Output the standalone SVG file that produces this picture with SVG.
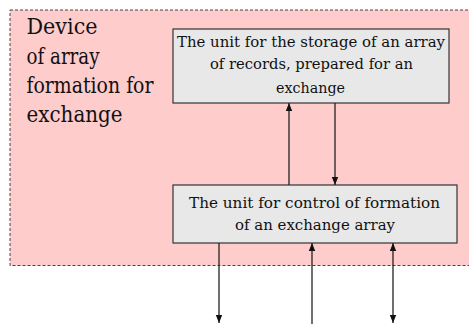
<svg xmlns="http://www.w3.org/2000/svg" width="469" height="324" viewBox="0 0 469 324">
<style>
text{font-family:'DejaVu Serif','Liberation Serif',serif;fill:#111}
.box{fill:#E8E8E8;stroke:#333;stroke-width:1.2}
.ln{stroke:#222;stroke-width:1.3;fill:none}
</style>
<defs>
<marker id="ah" viewBox="0 0 8 8" refX="8" refY="4" markerWidth="8" markerHeight="8" markerUnits="userSpaceOnUse" orient="auto-start-reverse">
<path d="M0,0.8 L8,4 L0,7.2 Z" fill="#111"/>
</marker>
</defs>
<g id="device">
<rect x="10" y="10" width="465" height="255.5" fill="#FFCCCC" stroke="#444" stroke-width="1" stroke-dasharray="3,2"/>
<text font-size="22" x="26.5" y="34" textLength="71" lengthAdjust="spacingAndGlyphs">Device</text>
<text font-size="22" x="26.5" y="64" textLength="73" lengthAdjust="spacingAndGlyphs">of array</text>
<text font-size="22" x="26.5" y="93" textLength="127" lengthAdjust="spacingAndGlyphs">formation for</text>
<text font-size="22" x="26.5" y="122" textLength="96" lengthAdjust="spacingAndGlyphs">exchange</text>
</g>
<g id="storage">
<rect class="box" x="173" y="29" width="276" height="74"/>
<text font-size="15" text-anchor="middle" x="311" y="46.5" textLength="268" lengthAdjust="spacingAndGlyphs">The unit for the storage of an array</text>
<text font-size="15" text-anchor="middle" x="311.5" y="68.5" textLength="203" lengthAdjust="spacingAndGlyphs">of records, prepared for an</text>
<text font-size="15" text-anchor="middle" x="310.5" y="93" textLength="69" lengthAdjust="spacingAndGlyphs">exchange</text>
</g>
<g id="control">
<rect class="box" x="173" y="185" width="284" height="58"/>
<text font-size="15" text-anchor="middle" x="314.5" y="208" textLength="251" lengthAdjust="spacingAndGlyphs">The unit for control of formation</text>
<text font-size="15" text-anchor="middle" x="315" y="230" textLength="160" lengthAdjust="spacingAndGlyphs">of an exchange array</text>
</g>
<g id="connectors">
<line class="ln" x1="289" y1="185" x2="289" y2="103" marker-end="url(#ah)"/>
<line class="ln" x1="335" y1="103" x2="335" y2="185" marker-end="url(#ah)"/>
<line class="ln" x1="219" y1="243" x2="219" y2="323" marker-end="url(#ah)"/>
<line class="ln" x1="312" y1="324" x2="312" y2="243" marker-end="url(#ah)"/>
<line class="ln" x1="393" y1="243" x2="393" y2="323" marker-start="url(#ah)" marker-end="url(#ah)"/>
</g>
</svg>
